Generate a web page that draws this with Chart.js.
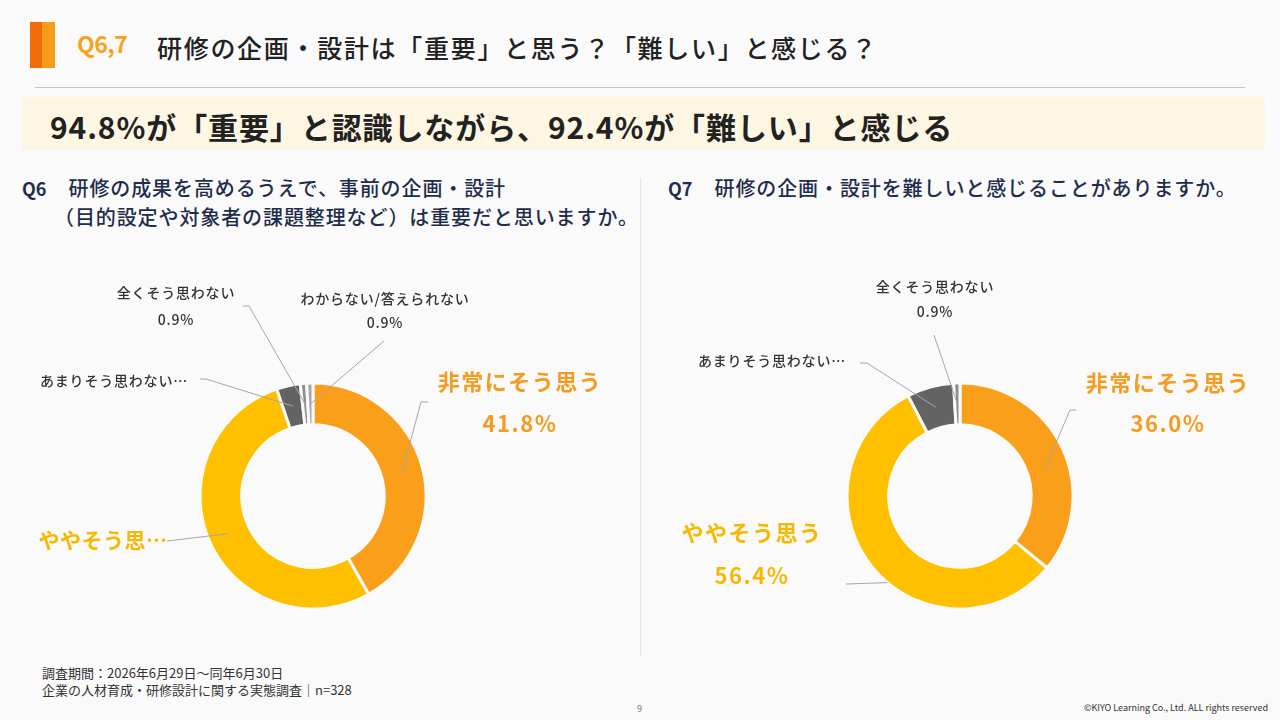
<!DOCTYPE html>
<html lang="ja">
<head>
<meta charset="utf-8">
<title>Q6,7 研修の企画・設計</title>
<script src="https://cdn.jsdelivr.net/npm/chart.js@4.4.1/dist/chart.umd.min.js"></script>
<style>
  html, body { margin: 0; padding: 0; }
  body {
    width: 1280px; height: 720px; position: relative; overflow: hidden;
    background: #fafafa; color: #222;
    font-family: "Noto Sans CJK JP", "Noto Sans", sans-serif;
  }
  .abs { position: absolute; white-space: nowrap; }
  .bar1 { left: 30px; top: 22px; width: 12px; height: 46px; background: #f26b0a; }
  .bar2 { left: 42px; top: 22px; width: 13px; height: 46px; background: #f59c1a; }
  .qno { left: 77px; top: 26px; font-size: 23px; font-weight: 700; color: #f7a21b; letter-spacing: -0.5px; }
  .title { left: 157px; top: 29px; font-size: 25px; font-weight: 500; letter-spacing: 1.7px; color: #222; }
  .rule { left: 35px; top: 87px; width: 1210px; height: 1px; background: #c4c4c4; }
  .band { left: 22px; top: 97px; width: 1243px; height: 53px; background: #fdf6e3; }
  .lead { left: 50px; top: 104px; font-size: 30px; font-weight: 700; color: #222; letter-spacing: 0.9px; }
  .q { font-size: 20px; font-weight: 500; color: #1f2d4d; letter-spacing: 0.9px; }
  .q b { font-size: 18px; font-weight: 700; letter-spacing: 0; margin-right: 22px; }
  .divider { left: 640px; top: 178px; width: 1px; height: 478px; background: #e4e4e4; }
  .note { left: 42px; font-size: 13px; color: #333; }
  .page { left: 637px; top: 702px; font-size: 9px; color: #777; }
  .copy { right: 12px; top: 701px; font-size: 9px; color: #333; }
  canvas { position: absolute; }
</style>
</head>
<body>
<div class="abs bar1"></div><div class="abs bar2"></div>
<div class="abs qno">Q6,7</div>
<div class="abs title">研修の企画・設計は「重要」と思う？「難しい」と感じる？</div>
<div class="abs rule"></div>
<div class="abs band"></div>
<div class="abs lead">94.8%が「重要」と認識しながら、92.4%が「難しい」と感じる</div>

<div class="abs q" style="left:22px; top:173px;"><b>Q6</b>研修の成果を高めるうえで、事前の企画・設計</div>
<div class="abs q" style="left:54px; top:202px;">（目的設定や対象者の課題整理など）は重要だと思いますか。</div>
<div class="abs q" style="left:668px; top:173px;"><b>Q7</b>研修の企画・設計を難しいと感じることがありますか。</div>
<div class="abs divider"></div>

<canvas id="q6Chart" width="640" height="420" style="left:0; top:240px;"></canvas>
<canvas id="q7Chart" width="640" height="420" style="left:640px; top:240px;"></canvas>

<div class="abs note" style="top:663px;">調査期間：2026年6月29日～同年6月30日</div>
<div class="abs note" style="top:680px;">企業の人材育成・研修設計に関する実態調査｜n=328</div>
<div class="abs page">9</div>
<div class="abs copy">©KIYO Learning Co., Ltd. ALL rights reserved</div>

<script>
// data (percent, n=328)
const categories = ['非常にそう思う', 'ややそう思う', 'あまりそう思わない', '全くそう思わない', 'わからない/答えられない'];
const q6Values = [41.8, 53.0, 3.4, 0.9, 0.9];
const q7Values = [36.0, 56.4, 6.7, 0.9, 0.0];
const sliceColors = ['#fa9f1a', '#ffc000', '#636363', '#8c8c8c', '#a8a8a8'];

const ORANGE = '#f59b1f';
const YELLOW = '#f7b800';
const DARK = '#333333';
const FONT = '"Noto Sans CJK JP", "Noto Sans", sans-serif';

function pct(v) {
    return v.toFixed(1) + '%';
}

// draws the outside labels and their leader lines
const sliceLabels = {
    id: 'sliceLabels',
    afterDraw(chart, args, opts) {
        const ctx = chart.ctx;
        const meta = chart.getDatasetMeta(0);
        const values = chart.data.datasets[0].data;
        ctx.save();
        opts.items.forEach(item => {
            const arc = meta.data[item.index];
            const p = arc.getProps(['x', 'y', 'startAngle', 'endAngle', 'innerRadius', 'outerRadius'], true);
            const t = item.t === undefined ? 0.5 : item.t;
            const rf = item.r === undefined ? 0.5 : item.r;
            const a = p.startAngle + (p.endAngle - p.startAngle) * t;
            const r = p.innerRadius + (p.outerRadius - p.innerRadius) * rf;
            const ex = p.x + r * Math.cos(a);
            const ey = p.y + r * Math.sin(a);

            // leader line
            ctx.strokeStyle = '#a6a6a6';
            ctx.lineWidth = 1;
            ctx.beginPath();
            item.line.forEach((pt, k) => {
                if (k === 0) ctx.moveTo(pt[0], pt[1]); else ctx.lineTo(pt[0], pt[1]);
            });
            ctx.lineTo(ex, ey);
            ctx.stroke();

            // text
            const lines = [item.name];
            if (item.showPct) lines.push(pct(values[item.index]));
            ctx.fillStyle = item.color;
            ctx.font = (item.weight || 500) + ' ' + item.size + 'px ' + FONT;
            ctx.letterSpacing = (item.spacing || 0) + 'px';
            ctx.textAlign = item.align || 'center';
            ctx.textBaseline = 'middle';
            lines.forEach((txt, k) => {
                ctx.fillText(txt, item.x, item.y[k]);
            });
        });
        ctx.restore();
    }
};

function makeDoughnut(id, values, padding, items) {
    return new Chart(document.getElementById(id), {
        type: 'doughnut',
        data: {
            labels: categories,
            datasets: [{
                data: values,
                backgroundColor: sliceColors,
                borderColor: '#fafafa',
                borderWidth: 3
            }]
        },
        options: {
            responsive: false,
            animation: false,
            radius: 113,
            cutout: '63%',
            layout: { padding: padding },
            plugins: {
                legend: { display: false },
                tooltip: { enabled: false },
                sliceLabels: { items: items }
            }
        },
        plugins: [sliceLabels]
    });
}

makeDoughnut('q6Chart', q6Values, { left: 0, right: 14, top: 92, bottom: 0 }, [
    { index: 0, name: '非常にそう思う', showPct: true, x: 520, y: [142, 184], size: 22, weight: 600, spacing: 1.5, color: ORANGE,
      line: [[428, 162], [421, 162]] },
    { index: 1, name: 'ややそう思…', x: 103, y: [300], size: 21, weight: 600, spacing: 0.5, color: YELLOW,
      line: [[167, 301]] },
    { index: 2, name: 'あまりそう思わない…', align: 'left', x: 40, y: [141], size: 14, spacing: 0.8, color: DARK,
      line: [[200, 139], [206, 139]] },
    { index: 3, name: '全くそう思わない', showPct: true, x: 176, y: [53, 80], size: 14, spacing: 0.8, color: DARK,
      line: [[243, 66], [249, 66]] },
    { index: 4, name: 'わからない/答えられない', showPct: true, x: 385, y: [59, 83], size: 14, spacing: 0.8, color: DARK,
      line: [[384, 101]] }
]);

makeDoughnut('q7Chart', q7Values, { left: 0, right: 0, top: 92, bottom: 0 }, [
    { index: 0, name: '非常にそう思う', showPct: true, x: 528, y: [143, 184], size: 22, weight: 600, spacing: 1.5, color: ORANGE,
      line: [[436, 170], [430, 170]], t: 0.56, r: 0.42 },
    { index: 1, name: 'ややそう思う', showPct: true, x: 112, y: [293, 336], size: 22, weight: 600, spacing: 1.5, color: YELLOW,
      line: [[206, 344]], t: 0.445, r: 1 },
    { index: 2, name: 'あまりそう思わない…', align: 'left', x: 58, y: [121], size: 14, spacing: 0.8, color: DARK,
      line: [[220, 123], [227, 123]] },
    { index: 3, name: '全くそう思わない', showPct: true, x: 295, y: [47, 72], size: 14, spacing: 0.8, color: DARK,
      line: [[294, 95]] }
]);
</script>
</body>
</html>
